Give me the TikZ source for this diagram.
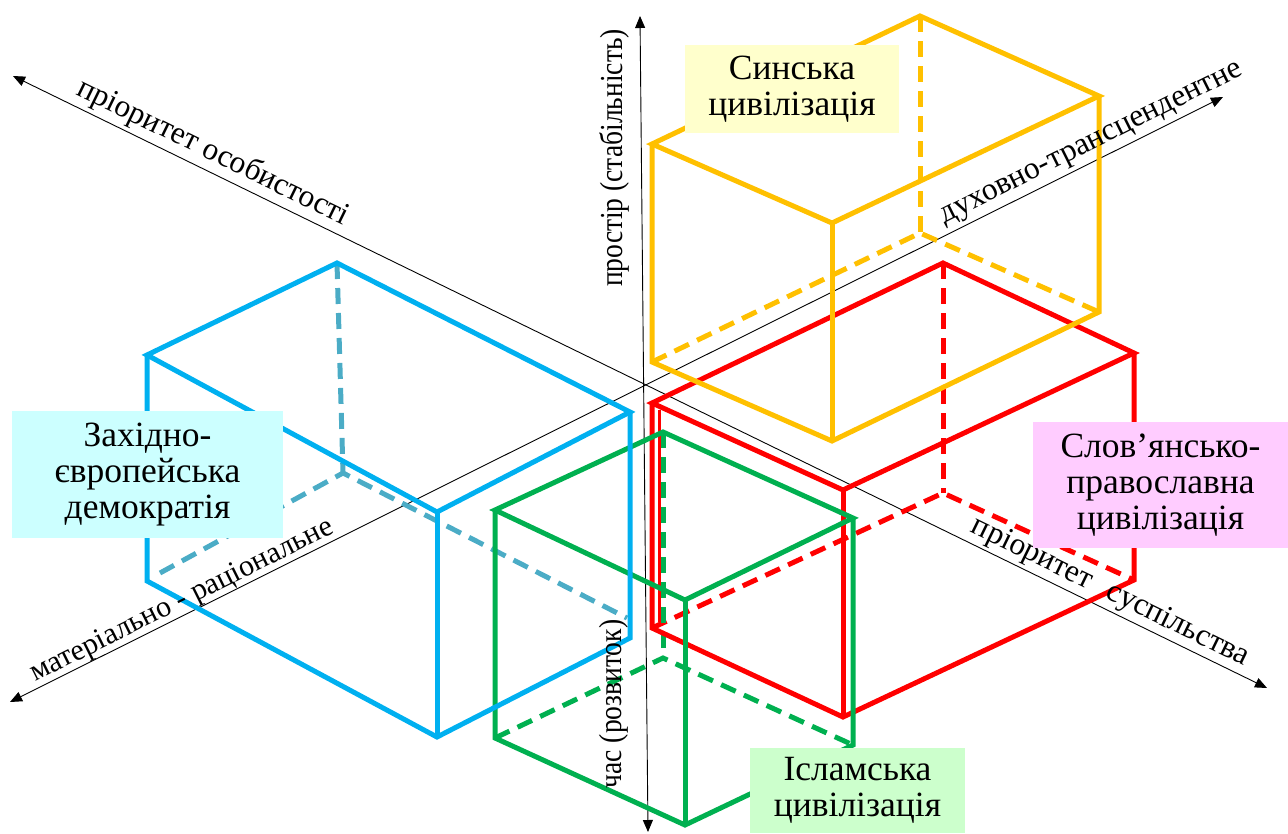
\documentclass[tikz,border=0pt]{standalone}
\usepackage{fontspec}
\setmainfont{Liberation Serif}
\newfontfamily\narrowserif[FakeStretch=0.86]{Liberation Serif}
\usetikzlibrary{arrows.meta}
\definecolor{cubeyellow}{HTML}{FFC000}
\definecolor{cubered}{HTML}{FF0000}
\definecolor{cubegreen}{HTML}{00B050}
\definecolor{cubeblue}{HTML}{00B0F0}
\definecolor{cubebluehid}{HTML}{4BACC6}
\definecolor{tagyellow}{HTML}{FFFFCC}
\definecolor{tagcyan}{HTML}{CCFFFF}
\definecolor{tagpink}{HTML}{FFCCFF}
\definecolor{taggreen}{HTML}{CCFFCC}
\begin{document}
\begin{tikzpicture}[x=1pt,y=-1pt,
  axis/.style={line width=0.9pt,
    {Triangle[length=12pt,width=10pt]}-{Triangle[length=12pt,width=10pt]}},
  edge/.style={line width=5pt, line join=miter},
  hidden/.style={line width=5pt, dash pattern=on 16pt off 9pt},
  axislabel/.style={font=\fontsize{31.5}{34}\selectfont, inner sep=1pt},
  vaxislabel/.style={font=\narrowserif\fontsize{32}{34}\selectfont, inner sep=1pt, rotate=90},
  tag/.style={font=\fontsize{35.5}{36}\selectfont, align=center, inner sep=0pt}
]
\useasboundingbox (0,0) rectangle (1288,833);

% axes
\coordinate (O) at (643,385);
\coordinate (persEnd) at (13,76);
\coordinate (socEnd) at (1267,688);
\coordinate (matEnd) at (10,702);
\coordinate (spirEnd) at (1223,97);
\coordinate (spaceEnd) at (640,16);
\coordinate (timeEnd) at (648,832);

\draw[axis] (persEnd) -- (socEnd);
\draw[axis] (matEnd) -- (spirEnd);
\draw[axis] (spaceEnd) -- (timeEnd);

% box corners: 1-4 top face (left, back, right, front), 5-8 bottom face
\coordinate (B1) at (147,355); \coordinate (B2) at (337,263);
\coordinate (B3) at (630,412); \coordinate (B4) at (437,512);
\coordinate (B5) at (147,581); \coordinate (B6) at (343,473);
\coordinate (B7) at (630,638); \coordinate (B8) at (437,737);
\coordinate (B6a) at (160,573); \coordinate (B6b) at (627,618);

\coordinate (R1) at (652,403); \coordinate (R2) at (943,263);
\coordinate (R3) at (1134,353); \coordinate (R4) at (843,490);
\coordinate (R5) at (652,628); \coordinate (R6) at (943,493);
\coordinate (R7) at (1134,580); \coordinate (R8) at (843,717);
\coordinate (R1i) at (659,410); \coordinate (R5i) at (659,622);

\coordinate (Y1) at (652,144); \coordinate (Y2) at (920,16);
\coordinate (Y3) at (1099,96); \coordinate (Y4) at (832,223);
\coordinate (Y5) at (652,362); \coordinate (Y6) at (920,233);
\coordinate (Y7) at (1099,312); \coordinate (Y8) at (832,441);

\coordinate (G1) at (495,510); \coordinate (G2) at (663,432);
\coordinate (G3) at (853,518); \coordinate (G4) at (685,600);
\coordinate (G5) at (495,738); \coordinate (G6) at (663,658);
\coordinate (G7) at (853,745); \coordinate (G8) at (685,825);

% hidden edges
\draw[hidden, cubebluehid] (B2) -- (B6);
\draw[hidden, cubebluehid] (B6a) -- (B6) -- (B6b);
\draw[hidden, cubered] (R2) -- (R6);
\draw[hidden, cubered] (R5) -- (R6) -- (R7);
\draw[hidden, cubeyellow] (Y2) -- (Y6);
\draw[hidden, cubeyellow] (Y5) -- (Y6) -- (Y7);
\draw[hidden, cubegreen] (G2) -- (G6);
\draw[hidden, cubegreen] (G5) -- (G6) -- (G7);

% visible edges
\draw[edge, cubered] (R1) -- (R2) -- (R3) -- (R4) -- cycle;
\draw[edge, cubered] (R1) -- (R5) -- (R8) -- (R7) -- (R3);
\draw[edge, cubered] (R4) -- (R8);
\draw[cubered, line width=3pt] (R1i) -- (R5i);

\draw[edge, cubeyellow] (Y1) -- (Y2) -- (Y3) -- (Y4) -- cycle;
\draw[edge, cubeyellow] (Y1) -- (Y5) -- (Y8) -- (Y7) -- (Y3);
\draw[edge, cubeyellow] (Y4) -- (Y8);

\draw[edge, cubegreen] (G1) -- (G2) -- (G3) -- (G4) -- cycle;
\draw[edge, cubegreen] (G1) -- (G5) -- (G8) -- (G7) -- (G3);
\draw[edge, cubegreen] (G4) -- (G8);

\draw[edge, cubeblue] (B1) -- (B2) -- (B3) -- (B4) -- cycle;
\draw[edge, cubeblue] (B1) -- (B5) -- (B8) -- (B7) -- (B3);
\draw[edge, cubeblue] (B4) -- (B8);

% axis labels
\path (persEnd) -- (socEnd)
  node[pos=0.153, sloped, above=3pt, axislabel] (perslbl) {пріоритет особистості}
  node[pos=0.869, sloped, above=2pt, axislabel] (soclbl) {пріоритет\hspace{0.6em}суспільства};
\path (matEnd) -- (spirEnd)
  node[pos=0.147, sloped, above=-1pt, axislabel, font=\fontsize{30}{32}\selectfont] (matlbl) {матеріально - раціональне}
  node[pos=0.898, sloped, above=3pt, axislabel] (spirlbl) {духовно-трансцендентне};
\node[vaxislabel] (spacelbl) at (614,158) {простір (стабільність)};
\node[vaxislabel] (timelbl) at (614,704) {час (розвиток)};

% civilisation tags
\node[tag, fill=tagyellow, minimum width=214pt, minimum height=88pt] (sinic)
  at (792,89) {Синська\\цивілізація};
\node[tag, fill=tagcyan, minimum width=271pt, minimum height=127pt] (western)
  at (147.5,474.5) {Західно-\\європейська\\демократія};
\node[tag, fill=tagpink, minimum width=255pt, minimum height=126pt] (slavic)
  at (1160.5,485) {Слов’янсько-\\православна\\цивілізація};
\node[tag, fill=taggreen, minimum width=215pt, minimum height=85pt] (islamic)
  at (857.5,790.5) {Ісламська\\цивілізація};
\end{tikzpicture}
\end{document}
